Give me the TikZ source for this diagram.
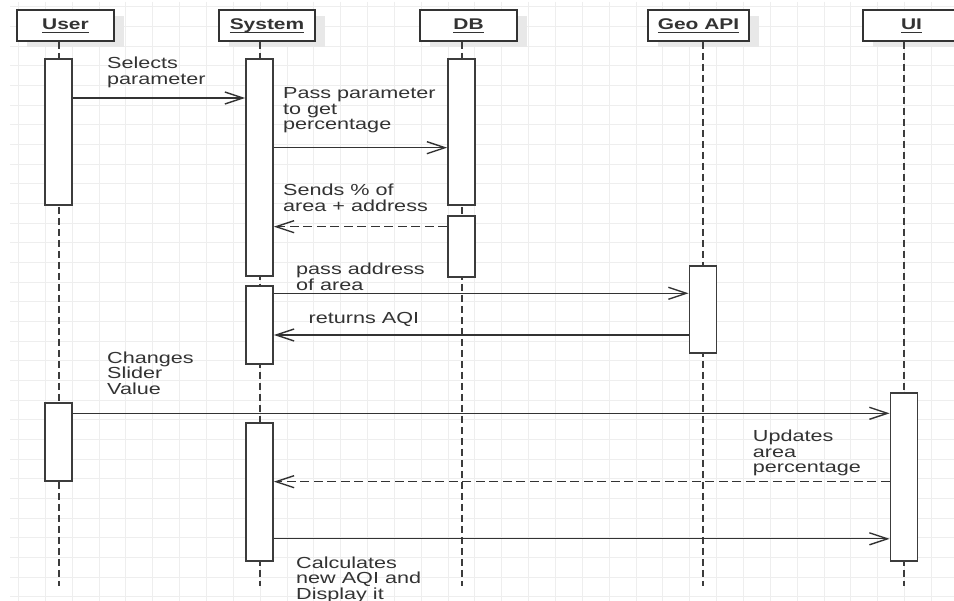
\documentclass[tikz,border=0pt]{standalone}
\usepackage{fontspec}
\setmainfont{Liberation Sans}[FakeStretch=1.35]
\usetikzlibrary{arrows.meta,shadows}
\definecolor{ink}{HTML}{333333}
\definecolor{gridc}{HTML}{EEEEEE}
\definecolor{lifec}{HTML}{3C3C3C}
% underlined lifeline title
\newcommand\hdrul[1]{\setbox0=\hbox{#1}\rlap{\rule[-4pt]{\wd0}{1.4pt}}\box0}
% left-aligned lines whose baseline is that of the first line
\newcommand\ml[1]{\vtop{\halign{##\hfil\cr#1\crcr}}}
\begin{document}
\begin{tikzpicture}[x=1pt,y=-1pt,
  hdr/.style={draw=ink, line width=1.8pt, fill=white, minimum height=31pt,
    inner sep=0pt, text height=11pt, text depth=3pt, text=ink,
    font=\fontsize{15.5}{16}\selectfont\bfseries,
    drop shadow={shadow xshift=10pt, shadow yshift=-6pt, fill=black!9, opacity=1}},
  act/.style={draw=lifec, line width=1.8pt, fill=white, minimum width=27pt, inner sep=0pt},
  life/.style={draw=lifec, line width=2pt, dash pattern=on 7pt off 4pt},
  msg/.style={draw=ink, line width=1.4pt, -{Straight Barb[length=18pt,width=12pt]}},
  ret/.style={msg, dash pattern=on 9pt off 4.5pt},
  lbl/.style={anchor=base west, inner sep=0pt, text=ink,
    font=\fontsize{16}{15.5}\selectfont}]
\useasboundingbox (0,0) rectangle (954,601);
\fill[white] (0,0) rectangle (954,601);

% background grid
\foreach \k in {0,...,35} \draw[gridc, line width=1pt] ({18.5+26.85*\k},2) -- ({18.5+26.85*\k},601);
\foreach \k in {0,...,30} \draw[gridc, line width=1pt] (10,{6.7+19.67*\k}) -- (954,{6.7+19.67*\k});

% lifeline headers
\node[hdr, minimum width=97pt]  (user) at (65.5,25.5)  {\hdrul{User}};
\node[hdr, minimum width=96pt]  (sys)  at (267,25.5)   {\hdrul{System}};
\node[hdr, minimum width=97pt]  (db)   at (468.5,25.5) {\hdrul{DB}};
\node[hdr, minimum width=101pt] (geo)  at (698.5,25.5) {\hdrul{Geo API}};
\node[hdr, minimum width=97pt]  (ui)   at (911.5,25.5) {\hdrul{UI}};

% lifeline ends
\coordinate (userEnd) at (58.5,586);
\coordinate (sysEnd)  at (259.5,586);
\coordinate (dbEnd)   at (461.5,586);
\coordinate (geoEnd)  at (703,586);
\coordinate (uiEnd)   at (904,586);

\draw[life] (user.south -| userEnd) -- (userEnd);
\draw[life] (sys.south -| sysEnd) -- (sysEnd);
\draw[life] (db.south -| dbEnd) -- (dbEnd);
\draw[life] (geo.south -| geoEnd) -- (geoEnd);
\draw[life] (ui.south -| uiEnd) -- (uiEnd);

% activation bars
\node[act, minimum height=146pt] (ua1) at (58.5,132) {};
\node[act, minimum height=78pt]  (ua2) at (58.5,442) {};
\node[act, minimum height=217pt] (sa1) at (259.5,167.5) {};
\node[act, minimum height=78pt]  (sa2) at (259.5,325) {};
\node[act, minimum height=138pt] (sa3) at (259.5,492) {};
\node[act, minimum height=146pt] (da1) at (461.5,132) {};
\node[act, minimum height=61pt]  (da2) at (461.5,246.5) {};
\node[act, minimum height=87pt]  (ga1) at (703,309.5) {};
\node[act, minimum height=168pt] (uia1) at (904,477) {};

% messages
\draw[msg] (ua1.east |- 0,98)    -- (sa1.west |- 0,98);
\draw[msg] (sa1.east |- 0,147.7) -- (da1.west |- 0,147.7);
\draw[ret] (da2.west |- 0,226.7) -- (sa1.east |- 0,226.7);
\draw[msg] (sa2.east |- 0,293.3) -- (ga1.west |- 0,293.3);
\draw[msg] (ga1.west |- 0,335)   -- (sa2.east |- 0,335);
\draw[msg] (ua2.east |- 0,413.3) -- (uia1.west |- 0,413.3);
\draw[ret] (uia1.west |- 0,481.7) -- (sa3.east |- 0,481.7);
\draw[msg] (sa3.east |- 0,538.8) -- (uia1.west |- 0,538.8);

% message labels
\node[lbl] (l1) at (107,69)    {\ml{Selects\cr parameter}};
\node[lbl] (l2) at (283,99)    {\ml{Pass parameter\cr to get\cr percentage}};
\node[lbl] (l3) at (283,196)   {\ml{Sends \% of\cr area + address}};
\node[lbl] (l4) at (296,275)   {\ml{pass address\cr of area}};
\node[lbl] (l5) at (308.5,323.3) {returns AQI};
\node[lbl] (l6) at (107,363.3) {\ml{Changes\cr Slider\cr Value}};
\node[lbl] (l7) at (752.7,441.7) {\ml{Updates\cr area\cr percentage}};
\node[lbl] (l8) at (296,568.3) {\ml{Calculates\cr new AQI and\cr Display it}};
\end{tikzpicture}
\end{document}
